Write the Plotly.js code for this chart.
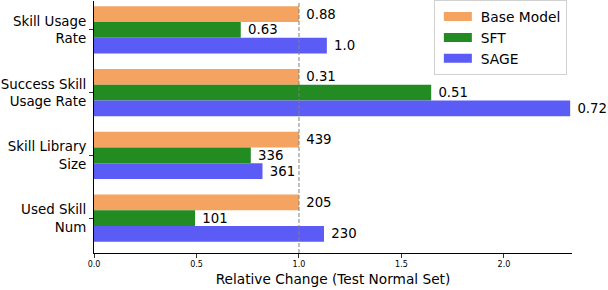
<!DOCTYPE html>
<html>
<head>
<meta charset="utf-8">
<script src="https://cdn.plot.ly/plotly-3.0.1.min.js"></script>
<style>html,body{margin:0;padding:0;background:#fff;}#chart{width:608px;height:290px;}</style>
</head>
<body>
<div id="chart"></div>
<script>
const categories = ['Skill Usage<br>Rate', 'Success Skill<br>Usage Rate', 'Skill Library<br>Size', 'Used Skill<br>Num'];
const seriesNames = ['Base Model', 'SFT', 'SAGE'];
const baseRel = [1.0, 1.0, 1.0, 1.0];
const sftRel = [0.716, 1.645, 0.765, 0.493];
const sageRel = [1.136, 2.323, 0.822, 1.122];
const baseLabels = ['0.88', '0.31', '439', '205'];
const sftLabels = ['0.63', '0.51', '336', '101'];
const sageLabels = ['1.0', '0.72', '361', '230'];
const xTicks = [0.0, 0.5, 1.0, 1.5, 2.0];

const colors = ['#F4A460', '#228B22', '#5B5BF5'];
const FONT = 'DejaVu Sans, sans-serif';
const vals = [baseRel, sftRel, sageRel];
const labs = [baseLabels, sftLabels, sageLabels];

const traces = vals.map((v, i) => ({
  type: 'bar',
  orientation: 'h',
  name: seriesNames[i],
  y: categories,
  x: v,
  text: labs[i].map(t => '\u00a0' + t),
  textposition: 'outside',
  constraintext: 'none',
  cliponaxis: false,
  textfont: {family: FONT, size: 13.3, color: '#000'},
  marker: {color: colors[i], line: {width: 0}},
  hoverinfo: 'none'
}));

const layout = {
  width: 608, height: 290,
  margin: {l: 94, r: 36, t: 0, b: 37, pad: 0},
  paper_bgcolor: '#fff', plot_bgcolor: '#fff',
  font: {family: FONT, color: '#000'},
  barmode: 'group', bargap: 0.25, bargroupgap: 0,
  showlegend: true,
  legend: {
    x: 0.711, y: 1.005, xanchor: 'left', yanchor: 'top',
    bgcolor: '#fff', bordercolor: '#d0d0d0', borderwidth: 1,
    font: {family: FONT, size: 13.8, color: '#000'},
    itemwidth: 36,
    traceorder: 'normal'
  },
  xaxis: {
    range: [0, 2.332],
    tickvals: xTicks, tickformat: '.1f',
    ticks: 'outside', ticklen: 3.5, tickcolor: '#000', tickwidth: 0.8,
    tickfont: {family: FONT, size: 8, color: '#000'},
    showline: true, linecolor: '#000', linewidth: 1,
    showgrid: false, zeroline: false,
    title: {text: 'Relative Change (Test Normal Set)', font: {family: FONT, size: 13.7, color: '#000'}, standoff: 6}
  },
  yaxis: {
    type: 'category',
    range: [3.556, -0.46],
    ticks: 'outside', ticklen: 4, tickcolor: '#000', tickwidth: 0.8,
    tickfont: {family: FONT, size: 13.4, color: '#000'},
    showline: true, linecolor: '#000', linewidth: 1,
    showgrid: false, zeroline: false
  },
  shapes: [{
    type: 'line', xref: 'x', yref: 'paper', x0: 1, x1: 1, y0: 0, y1: 1,
    line: {color: '#808080', width: 1, dash: '4px,2px'}, layer: 'above'
  }]
};

Plotly.newPlot('chart', traces, layout, {staticPlot: true, displayModeBar: false}).then(() => {
  document.querySelectorAll('.legendpoints path').forEach(p => {
    p.setAttribute('d', 'M-14,-4.5H14V4.5H-14Z');
  });
});
</script>
</body>
</html>
